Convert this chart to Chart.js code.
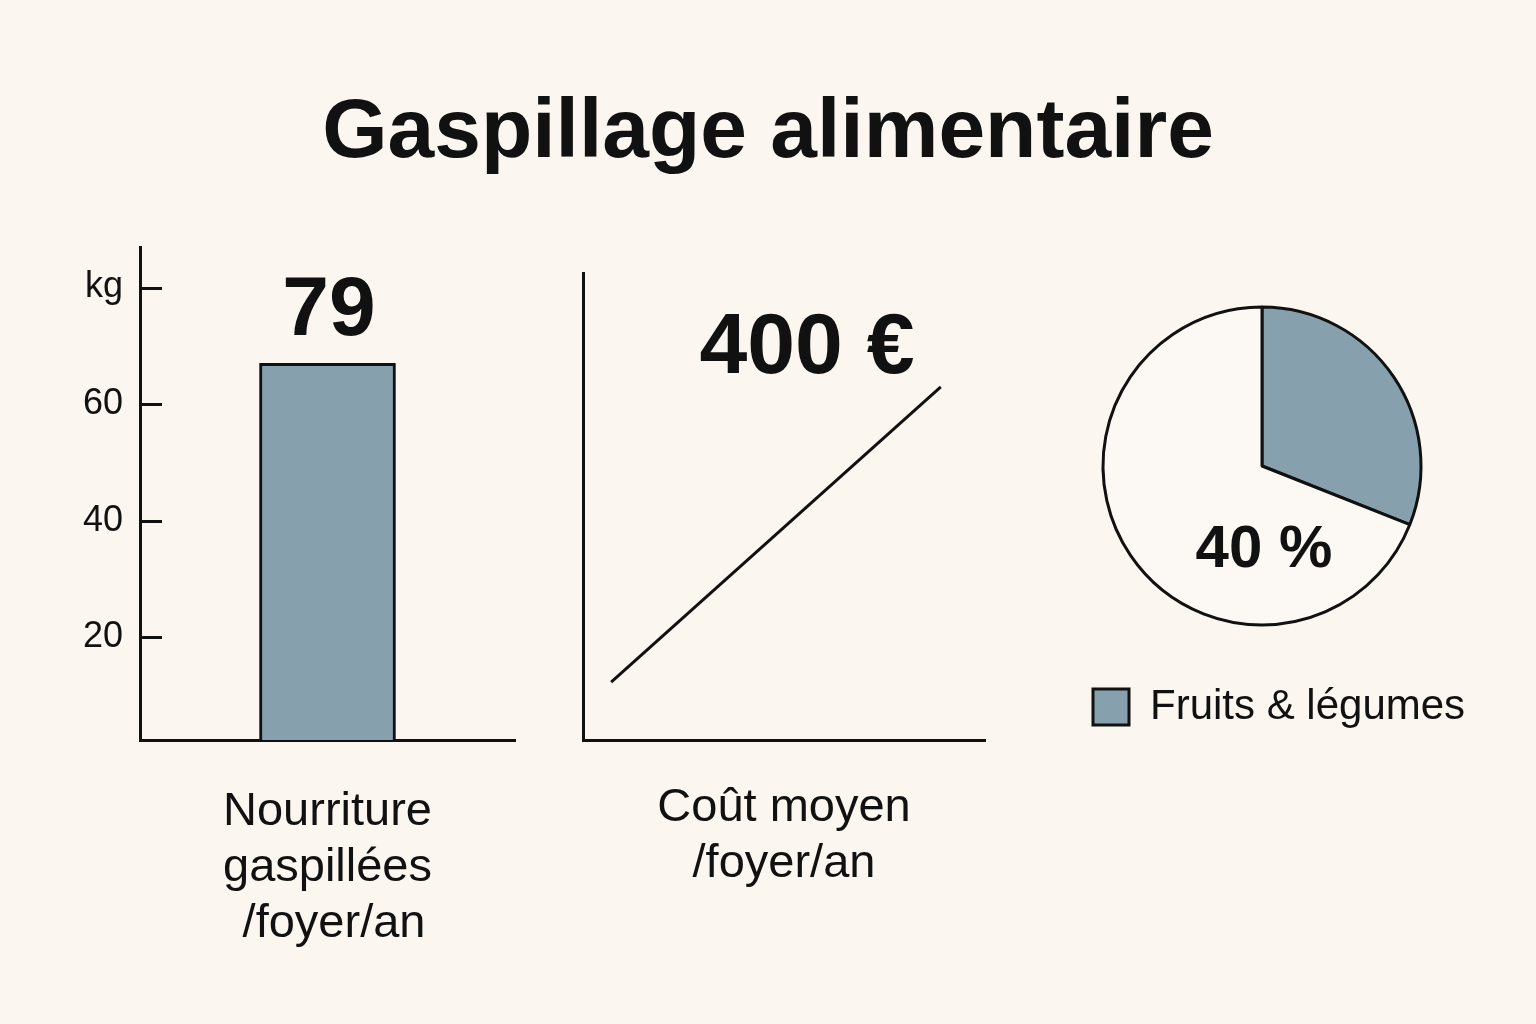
<!DOCTYPE html>
<html lang="fr">
<head>
<meta charset="utf-8">
<title>Gaspillage alimentaire</title>
<script src="https://cdn.jsdelivr.net/npm/chart.js@4.4.1/dist/chart.umd.min.js"></script>
<style>
  html, body { margin: 0; padding: 0; }
  body {
    width: 1536px; height: 1024px; position: relative; overflow: hidden;
    background: #fbf7f0; color: #111;
    font-family: "Liberation Sans", Arial, sans-serif;
  }
  canvas { position: absolute; }
  .txt { position: absolute; white-space: nowrap; font-weight: bold; line-height: 1; text-align: center; }
  #title { left: 0; width: 1536px; top: 86px; font-size: 84px; }
  #barValue { left: 229px; width: 200px; top: 264px; font-size: 84px; }
  #costValue { left: 657px; width: 300px; top: 300px; font-size: 86px; }
  #pieValue { left: 1164px; width: 200px; top: 517px; font-size: 60px; }
</style>
</head>
<body>
<div class="txt" id="title">Gaspillage alimentaire</div>

<canvas id="barChart" width="455" height="748" style="left:70px; top:209px;"></canvas>
<canvas id="lineChart" width="422" height="629" style="left:573px; top:263px;"></canvas>
<canvas id="pieChart" width="500" height="498" style="left:1000px; top:240px;"></canvas>

<div class="txt" id="barValue">79</div>
<div class="txt" id="costValue">400 €</div>
<div class="txt" id="pieValue">40 %</div>

<script>
// data
const barLabels = ['Nourriture gaspillées /foyer/an'];
const barValues = [67];           // drawn height of the bar, in kg
const barTicks = [20, 40, 60, 80];
const barAxisTitle = ['Nourriture', 'gaspillées', ' /foyer/an'];

const costX = [7, 89];
const costY = [12.4, 75.6];
const costAxisTitle = ['Coût moyen', '/foyer/an'];

const pieLabels = ['Fruits & légumes', 'Autres'];
const pieValues = [31, 69];

const INK = '#111111';
const BLUE = '#86a0ae';
const PAPER = '#fcf9f4';

Chart.defaults.font.family = '"Liberation Sans", Arial, sans-serif';
Chart.defaults.color = INK;

// short tick marks drawn on the inner side of the y axis
const innerTicks = {
    id: 'innerTicks',
    afterDraw(chart) {
        const y = chart.scales.y;
        const left = chart.chartArea.left;
        const ctx = chart.ctx;
        ctx.save();
        ctx.strokeStyle = INK;
        ctx.lineWidth = 3;
        y.ticks.forEach(t => {
            const py = Math.round(y.getPixelForValue(t.value)) + 0.5;
            ctx.beginPath();
            ctx.moveTo(left, py);
            ctx.lineTo(left + 22, py);
            ctx.stroke();
        });
        ctx.restore();
    }
};

new Chart(document.getElementById('barChart'), {
    type: 'bar',
    data: {
        labels: barLabels,
        datasets: [{
            data: barValues,
            backgroundColor: BLUE,
            borderColor: INK,
            borderWidth: 3,
            barThickness: 136
        }]
    },
    options: {
        responsive: false,
        animation: false,
        layout: { padding: { left: 10, right: 10, top: 25, bottom: 5 } },
        plugins: { legend: { display: false }, tooltip: { enabled: false } },
        scales: {
            x: {
                grid: { display: false, drawTicks: false },
                ticks: { display: false },
                border: { color: INK, width: 3 },
                title: {
                    display: true,
                    text: barAxisTitle,
                    color: INK,
                    font: { size: 47, lineHeight: 56 / 47 },
                    padding: { top: 44, bottom: 0 }
                }
            },
            y: {
                min: 2.34,
                max: 86.86,
                afterBuildTicks: s => { s.ticks = barTicks.map(v => ({ value: v })); },
                afterFit: s => { s.width = 60; },
                grid: { display: false, drawTicks: false },
                border: { color: INK, width: 3 },
                ticks: {
                    padding: 17,
                    color: INK,
                    font: { size: 36 },
                    callback: v => v === 80 ? 'kg' : v
                }
            }
        }
    },
    plugins: [innerTicks]
});

new Chart(document.getElementById('lineChart'), {
    type: 'line',
    data: {
        datasets: [{
            data: costX.map((x, i) => ({ x: x, y: costY[i] })),
            borderColor: INK,
            borderWidth: 3,
            pointRadius: 0,
            fill: false
        }]
    },
    options: {
        responsive: false,
        animation: false,
        layout: { padding: { left: 10, right: 10, top: 10, bottom: 0 } },
        plugins: { legend: { display: false }, tooltip: { enabled: false } },
        scales: {
            x: {
                type: 'linear',
                min: 0,
                max: 100,
                grid: { display: false, drawTicks: false },
                ticks: { display: false },
                border: { color: INK, width: 3 },
                title: {
                    display: true,
                    text: costAxisTitle,
                    color: INK,
                    font: { size: 47, lineHeight: 56 / 47 },
                    padding: { top: 40, bottom: 0 }
                }
            },
            y: {
                min: 0,
                max: 100,
                grid: { display: false, drawTicks: false },
                ticks: { display: false },
                border: { color: INK, width: 3 }
            }
        }
    }
});

new Chart(document.getElementById('pieChart'), {
    type: 'pie',
    data: {
        labels: pieLabels,
        datasets: [{
            data: pieValues,
            backgroundColor: [BLUE, PAPER],
            borderColor: INK,
            borderWidth: 3
        }]
    },
    options: {
        responsive: false,
        animation: false,
        radius: 159,
        layout: { padding: { left: 83, right: 0, top: 16, bottom: 0 } },
        plugins: {
            tooltip: { enabled: false },
            // empty box on the right: keeps the pie centred while the legend gets the full width
            title: { display: true, position: 'right', text: '', padding: 0, font: { size: 59, lineHeight: 1 } },
            legend: {
                position: 'bottom',
                align: 'start',
                labels: {
                    boxWidth: 36,
                    boxHeight: 36,
                    padding: 10,
                    color: INK,
                    font: { size: 42 },
                    filter: item => item.index === 0
                }
            }
        }
    }
});
</script>
</body>
</html>
